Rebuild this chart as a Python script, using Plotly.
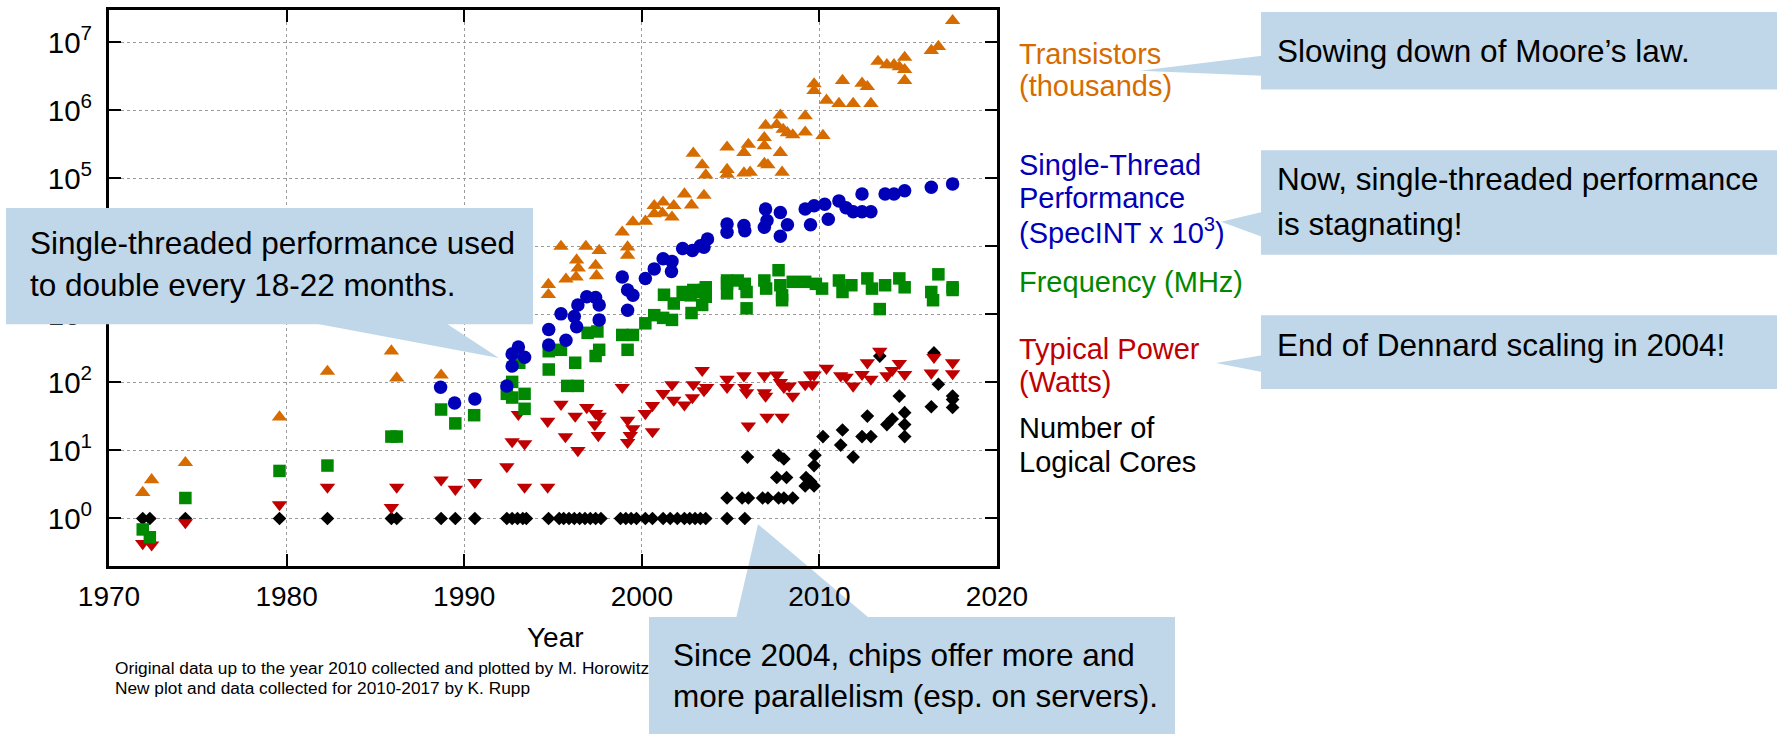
import math
import plotly.graph_objects as go

# ---------------- data ----------------
tr_year = [1971.9, 1972.4, 1974.3, 1979.6, 1982.3, 1985.9, 1986.2, 1988.7,
           1994.74, 1994.74, 1995.45, 1995.73, 1996.33, 1996.42, 1996.3, 1996.85, 1997.4, 1997.6, 1997.45,
           1998.9, 1999.2, 1999.2, 1999.5, 2000.2, 2000.7, 2000.7, 2001.2, 2001.16, 2001.7, 2001.8,
           2002.4, 2002.8, 2003.5, 2002.9, 2003.4, 2003.6, 2004.8, 2004.8, 2004.8, 2005.75, 2006.0,
           2005.75, 2006.1, 2006.9, 2006.9, 2006.97, 2006.9, 2007.1, 2007.6, 2007.8, 2007.8, 2007.9,
           2007.96, 2008.2, 2008.5, 2009.2, 2009.2, 2009.7, 2009.7, 2010.2, 2010.4, 2011.1, 2011.3,
           2011.9, 2012.4, 2012.7, 2012.9, 2013.3, 2013.8, 2014.2, 2014.5, 2014.8, 2014.8, 2014.8,
           2016.3, 2016.7, 2017.5]
tr_val = [2.4, 3.7, 6.6, 31, 145, 290, 116, 128,
          2750, 1950, 10000, 3300, 6300, 4800, 3550, 10000, 5250, 8700, 3700,
          16200, 9800, 7400, 22900, 23400, 39800, 30200, 44700, 30900, 26900, 39800,
          58900, 40700, 56200, 234000, 158000, 112000, 288000, 135000, 115000, 240000, 316000,
          120000, 123000, 398000, 302000, 603000, 166000, 158000, 617000, 851000, 240000, 123000,
          525000, 468000, 437000, 832000, 479000, 2450000, 1950000, 427000, 1410000, 1260000, 2750000,
          1260000, 2510000, 2240000, 1260000, 5250000, 4680000, 4680000, 4370000, 6030000, 3980000, 2750000,
          7600000, 8700000, 20900000]

st_year = [1988.67, 1989.46, 1990.6, 1992.4, 1992.7, 1992.7, 1993.05, 1993.4,
           1994.76, 1994.76, 1995.45, 1995.73, 1996.2, 1996.4, 1996.33, 1996.9, 1997.4, 1997.6, 1997.6,
           1999.2, 1998.9, 1999.2, 1999.5, 2000.2, 2000.7, 2001.2, 2001.7, 2001.67, 2002.3, 2002.85,
           2003.3, 2003.7, 2003.5, 2004.8, 2004.8, 2005.75, 2005.8, 2006.9, 2006.97, 2007.05, 2007.8,
           2008.2, 2007.8, 2009.2, 2009.7, 2009.5, 2010.3, 2010.5, 2011.1, 2011.5, 2011.9, 2012.4,
           2012.4, 2012.9, 2013.7, 2014.2, 2014.8, 2016.3, 2017.5]
st_val = [85, 50, 57, 89, 174, 263, 331, 234,
          355, 603, 1020, 417, 933, 1380, 661, 1820, 1780, 1380, 832,
          1150, 3550, 2290, 1910, 3390, 4680, 6610, 6030, 4270, 9330, 8710,
          10200, 12900, 9770, 21400, 16200, 20400, 17000, 19100, 35500, 24000, 31600,
          20900, 14100, 35500, 39800, 20900, 41700, 25100, 46800, 37200, 32400, 32400,
          58900, 32400, 58900, 58900, 66100, 74100, 83200]

fr_year = [1971.9, 1972.3, 1974.3, 1979.6, 1982.3, 1985.9, 1986.2, 1988.7, 1989.5, 1990.56,
           1992.4, 1992.7, 1992.7, 1993.4, 1993.4, 1993.1, 1994.76, 1994.76, 1995.45, 1995.8,
           1996.4, 1996.25, 1996.95, 1997.5, 1997.4, 1997.6, 1998.9, 1999.2, 1999.5, 2000.2,
           2000.7, 2001.2, 2001.7, 2001.25, 2001.8, 2002.4, 2002.8, 2002.9, 2003.4, 2003.6,
           2003.5, 2002.3, 2002.75, 2003.4, 2003.6, 2004.8, 2004.8, 2004.8, 2005.4, 2005.8,
           2005.9, 2005.9, 2006.9, 2007.0, 2007.7, 2007.8, 2007.9, 2007.9, 2008.5, 2009.2,
           2009.8, 2010.15, 2011.1, 2011.3, 2011.8, 2012.7, 2012.96, 2013.4, 2013.7, 2014.5,
           2014.8, 2016.7, 2016.3, 2016.4, 2017.5, 2017.5]
fr_val = [0.69, 0.53, 2.0, 5.0, 6.0, 16, 16, 40, 25, 33,
          68, 102, 60, 68, 41, 195, 155, 288, 302, 89,
          89, 195, 537, 562, 245, 302, 500, 302, 500, 741,
          977, 891, 832, 1950, 1450, 1950, 1050, 2290, 1380, 1820,
          2290, 2140, 1910, 2140, 2510, 3160, 2040, 2880, 3160, 2820,
          2140, 1230, 3160, 2400, 4470, 2690, 1910, 1620, 3020, 3020,
          2820, 2400, 3160, 2140, 2690, 3390, 2400, 1200, 2690, 3390,
          2510, 3890, 2140, 1620, 2510, 2290]

pw_year = [1971.9, 1972.4, 1974.3, 1979.6, 1982.3, 1985.9, 1986.2, 1988.7, 1989.5, 1990.6,
           1992.4, 1992.7, 1993.05, 1993.4, 1993.4, 1994.7, 1994.7, 1995.45, 1995.7, 1996.25,
           1996.4, 1996.9, 1997.4, 1997.6, 1997.35, 1997.55, 1998.9, 1999.2, 1999.5, 1999.35,
           1999.2, 2000.2, 2000.6, 2000.6, 2001.2, 2001.7, 2001.8, 2002.4, 2002.85, 2002.9,
           2003.4, 2003.5, 2003.65, 2004.8, 2004.8, 2005.75, 2005.8, 2005.9, 2006.0, 2006.9,
           2006.9, 2006.97, 2007.05, 2007.6, 2007.8, 2007.9, 2008.0, 2008.3, 2008.5, 2009.2,
           2009.5, 2009.7, 2009.6, 2010.4, 2011.2, 2011.5, 2011.9, 2012.4, 2012.7, 2012.9,
           2013.4, 2013.8, 2014.1, 2014.5, 2014.8, 2016.3, 2016.45, 2017.5, 2017.5]
pw_val = [0.43, 0.41, 0.87, 1.6, 2.9, 1.45, 2.9, 3.7, 2.7, 3.4,
          5.8, 13.5, 34, 12.6, 2.9, 2.9, 27, 48, 16, 32,
          10, 43, 35, 32, 24, 16.6, 85, 28, 21, 16.6,
          13.2, 35, 46, 19, 69, 93, 55, 47, 60, 93,
          151, 76, 85, 112, 85, 126, 85, 71, 23, 126,
          71, 63, 31, 129, 100, 31, 85, 89, 63, 93,
          129, 129, 93, 162, 126, 120, 89, 132, 195, 112,
          288, 126, 151, 191, 132, 138, 234, 195, 135]

co_year = [1971.9, 1972.3, 1974.3, 1979.6, 1982.3, 1985.9, 1986.2, 1988.7, 1989.5, 1990.6,
           1992.4, 1992.7, 1993.0, 1993.3, 1993.5, 1994.75, 1995.35, 1995.6, 1995.9, 1996.2,
           1996.5, 1996.8, 1997.1, 1997.4, 1997.7, 1998.8, 1999.1, 1999.4, 1999.7, 2000.2,
           2000.6, 2001.2, 2001.6, 2002.0, 2002.4, 2002.7, 2003.0, 2003.3, 2003.6, 2004.8,
           2005.8,
           2004.8, 2005.65, 2006.0, 2006.8, 2007.1, 2007.7, 2008.0, 2008.5,
           2005.95, 2007.7, 2008.0, 2007.6, 2008.15, 2009.25, 2009.2, 2009.5, 2009.7, 2009.7,
           2009.75, 2010.2, 2011.2, 2011.3, 2011.9, 2012.4, 2012.9, 2012.7, 2013.4, 2013.8,
           2014.1, 2014.5, 2014.8, 2014.8, 2014.8, 2016.3, 2016.45, 2016.7, 2017.5, 2017.5,
           2017.5]
co_val = [1, 1, 1, 1, 1, 1, 1, 1, 1, 1,
          1, 1, 1, 1, 1, 1, 1, 1, 1, 1,
          1, 1, 1, 1, 1, 1, 1, 1, 1, 1,
          1, 1, 1, 1, 1, 1, 1, 1, 1, 1,
          1,
          2, 2, 2, 2, 2, 2, 2, 2,
          8, 8.5, 7.5, 4, 4, 4, 3, 3.5, 3, 6,
          8.5, 16, 12, 20, 8, 16, 16, 32, 244, 24,
          29, 63, 36, 24, 16, 44, 272, 94, 63, 56,
          43]

x_ticks = [1970, 1980, 1990, 2000, 2010, 2020]
y_ticks = [1, 10, 100, 1e3, 1e4, 1e5, 1e6, 1e7]
y_ticktext = ["10<sup>0</sup>", "10<sup>1</sup>", "10<sup>2</sup>", "10<sup>3</sup>",
              "10<sup>4</sup>", "10<sup>5</sup>", "10<sup>6</sup>", "10<sup>7</sup>"]

# ---------------- styling ----------------
FONT = "Liberation Sans, Arial, Helvetica, sans-serif"
C_OR, C_BL, C_GR, C_RD, C_BK = "#D66C00", "#0000B8", "#008800", "#C00000", "#000000"
BOX = "#BFD7E8"

W, H = 1777, 734
L, R, T, B = 109, 997, 7, 566


def px(x):
    return (x - L) / (R - L)


def py(y):
    return (B - y) / (B - T)


fig = go.Figure()
series = [
    ("Number of Logical Cores", co_year, co_val, "diamond", C_BK, 10.5),
    ("Typical Power (Watts)", pw_year, pw_val, "triangle-down", C_RD, 13.5),
    ("Frequency (MHz)", fr_year, fr_val, "square", C_GR, 12.5),
    ("Single-Thread Performance", st_year, st_val, "circle", C_BL, 13.5),
    ("Transistors (thousands)", tr_year, tr_val, "triangle-up", C_OR, 13.5),
]
for name, xs, ys, sym, col, sz in series:
    fig.add_trace(go.Scatter(x=xs, y=ys, mode="markers", name=name,
                             marker=dict(symbol=sym, color=col, size=sz, line=dict(width=0))))

axis_common = dict(
    showline=True, linewidth=3, linecolor="black", mirror="ticks",
    ticks="inside", ticklen=12, tickwidth=2, tickcolor="black",
    showgrid=True, gridcolor="#9a9a9a", gridwidth=1, griddash="dot",
    zeroline=False,
)
fig.update_xaxes(range=[1970, 2020], tickmode="array", tickvals=x_ticks,
                 ticklabelstandoff=3, tickfont=dict(family=FONT, size=28, color="black"),
                 **axis_common)
fig.update_yaxes(type="log", range=[math.log10(0.2), math.log10(3e7)], tickmode="array",
                 tickvals=y_ticks, ticktext=y_ticktext, ticklabelstandoff=8,
                 tickfont=dict(family=FONT, size=29.5, color="black"), **axis_common)

ann = []
shapes = []


def text(x, y, s, size, color="black", anchor="left"):
    ann.append(dict(x=px(x), y=py(y), xref="paper", yref="paper", text=s, showarrow=False,
                    xanchor=anchor, yanchor="middle", font=dict(family=FONT, size=size, color=color)))


def rect(x0, y0, x1, y1):
    shapes.append(dict(type="rect", xref="paper", yref="paper", x0=px(x0), x1=px(x1),
                       y0=py(y1), y1=py(y0), fillcolor=BOX, line=dict(width=0), layer="above"))


def pointer(pts, layer="above"):
    path = "M " + " L ".join(f"{px(a):.5f},{py(b):.5f}" for a, b in pts) + " Z"
    shapes.append(dict(type="path", xref="paper", yref="paper", path=path,
                       fillcolor=BOX, line=dict(width=0), layer=layer))


# footnote (partly hidden by the bottom callout, as in the original slide)
text(113, 669, "Original data up to the year 2010 collected and plotted by M. Horowitz, F. Labonte, "
               "O. Shacham, K. Olukotun, L. Hammond, and C. Batten", 17.3)
text(113, 689, "New plot and data collected for 2010-2017 by K. Rupp", 17.3)
# axis title
text(555, 638, "Year", 28, anchor="center")

# bottom callout box: an opaque annotation so that it hides the end of the footnote
ann.append(dict(x=px(649), y=py(617), xref="paper", yref="paper", text=" ", showarrow=False,
                xanchor="left", yanchor="top", width=1175 - 649, height=734 - 617,
                bgcolor=BOX, borderpad=0, borderwidth=0, font=dict(size=2)))
pointer([(736, 619), (870, 619), (758, 524)], layer="below")

# other callout boxes
rect(6, 206, 533, 323)
pointer([(314, 322), (446, 322), (499, 357)])
rect(1261, 9, 1777, 87)
pointer([(1262, 53), (1262, 73), (1140, 68)])
rect(1261, 148, 1777, 253)
pointer([(1262, 210), (1262, 235), (1221, 220)])
rect(1261, 314, 1777, 388)
pointer([(1262, 354), (1262, 371), (1216, 362)])

# callout texts
text(28, 241, "Single-threaded performance used", 31.5)
text(28, 283, "to double every 18-22 months.", 31.5)
text(1275, 48, "Slowing down of Moore’s law.", 31.5)
text(1275, 177, "Now, single-threaded performance", 31.5)
text(1275, 222, "is stagnating!", 31.5)
text(1275, 344, "End of Dennard scaling in 2004!", 31.5)
text(671, 655, "Since 2004, chips offer more and", 31.5)
text(671, 697, "more parallelism (esp. on servers).", 31.5)

# series labels
text(1017, 51, "Transistors", 29, C_OR)
text(1017, 83, "(thousands)", 29, C_OR)
text(1017, 163, "Single-Thread", 29, C_BL)
text(1017, 196, "Performance", 29, C_BL)
text(1017, 229, "(SpecINT x 10<sup>3</sup>)", 29, C_BL)
text(1017, 280, "Frequency (MHz)", 29, C_GR)
text(1017, 348, "Typical Power", 29, C_RD)
text(1017, 381, "(Watts)", 29, C_RD)
text(1017, 427, "Number of", 29, C_BK)
text(1017, 461, "Logical Cores", 29, C_BK)

fig.update_layout(
    width=W, height=H, margin=dict(l=L, r=W - R, t=T, b=H - B),
    paper_bgcolor="white", plot_bgcolor="white", showlegend=False,
    font=dict(family=FONT, color="black"),
    annotations=ann, shapes=shapes,
)
fig.write_html("out.html")
